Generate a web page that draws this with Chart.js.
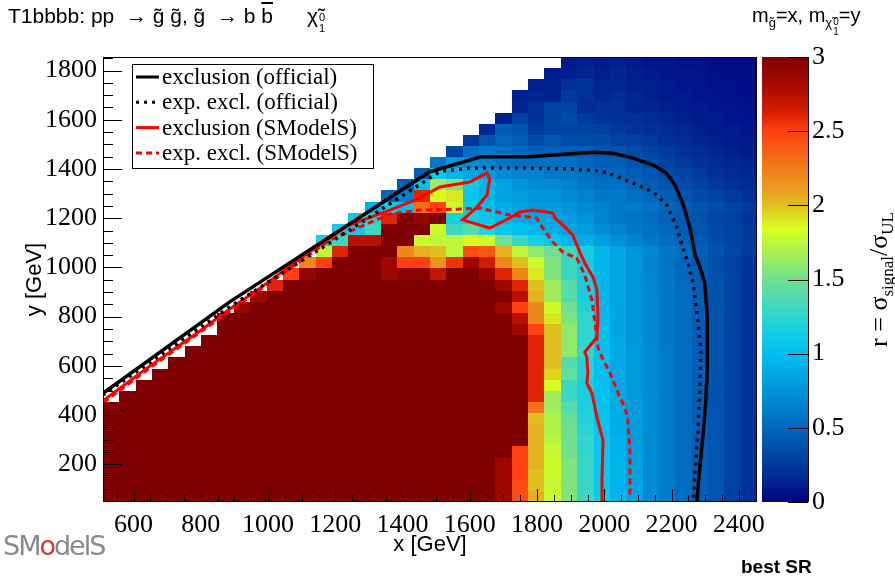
<!DOCTYPE html>
<html>
<head>
<meta charset="utf-8">
<script src="https://cdn.jsdelivr.net/npm/chart.js@4.4.1/dist/chart.umd.min.js"></script>
<style>
body { margin: 0; background: #fff; }
#wrap { position: relative; width: 895px; height: 578px; }
.hdr { position: absolute; font-family: 'Liberation Sans', Arial, sans-serif; color: #000; white-space: nowrap; }
.stk { display: inline-block; font-size: 11px; line-height: 11px; vertical-align: -9px; margin-left: 1px; }
.stk2 { display: inline-block; font-size: 10px; line-height: 10px; vertical-align: -8px; margin-left: 1px; }
.ov { text-decoration: overline; }
#logo { left: 3px; top: 530px; font-family: 'DejaVu Sans', sans-serif; font-size: 27px; color: #8a8a8a; letter-spacing: -2px; }
#logo span { color: #d33; }
</style>
</head>
<body>
<div id="wrap">
<canvas id="limitChart" width="895" height="578"></canvas>
<div class="hdr" style="left:8px; top:4px; font-size:21px;">T1bbbb: pp&nbsp; → g&#x303; g&#x303;, g&#x303; &nbsp;→ b <span class="ov">b</span><span style="margin-left:34px">χ&#x303;</span><span class="stk">0<br>1</span></div>
<div class="hdr" style="left:752px; top:4px; font-size:20px;">m<sub style="font-size:13px">g&#x303;</sub>=x, m<sub style="font-size:13px">χ&#x303;<span class="stk2">0<br>1</span></sub>=y</div>
<div class="hdr" style="left:741px; top:556px; font-size:19px; font-weight:bold;">best SR</div>
<div class="hdr" id="logo">SM<span>o</span>delS</div>
</div>
<script>
// axis ranges of the histogram and tick labels
const xMin = 509, xMax = 2454, yMin = 47, yMax = 1855;
const xTickValues = [600, 800, 1000, 1200, 1400, 1600, 1800, 2000, 2200, 2400];
const yTickValues = [200, 400, 600, 800, 1000, 1200, 1400, 1600, 1800];
const zTickValues = [0, 0.5, 1, 1.5, 2, 2.5, 3];

// r = sigma_signal / sigma_UL per bin, rows listed from the top (y high) down to the bottom
const _ = null;
const rGrid = [
  [_,_,_,_,_, _,_,_,_,_, _,_,_,_,_, _,_,_,_,_, _,_,_,_,_, _,_,_, 0.1,0.12,0.1,0.12,0.1,0.08,0.08,0.06,0.06,0.05,0.05,0.05],
  [_,_,_,_,_, _,_,_,_,_, _,_,_,_,_, _,_,_,_,_, _,_,_,_,_, _,_, 0.1,0.12,0.15,0.12,0.15,0.12,0.1,0.08,0.08,0.07,0.06,0.05,0.05],
  [_,_,_,_,_, _,_,_,_,_, _,_,_,_,_, _,_,_,_,_, _,_,_,_,_, _, 0.12,0.12,0.2,0.22,0.15,0.15,0.12,0.12,0.1,0.08,0.08,0.06,0.06,0.05],
  [_,_,_,_,_, _,_,_,_,_, _,_,_,_,_, _,_,_,_,_, _,_,_,_,_, 0.12,0.15,0.12,0.25,0.2,0.15,0.18,0.15,0.12,0.1,0.1,0.08,0.07,0.06,0.05],
  [_,_,_,_,_, _,_,_,_,_, _,_,_,_,_, _,_,_,_,_, _,_,_,_,_, 0.15,0.2,0.3,0.3,0.18,0.2,0.2,0.15,0.15,0.12,0.1,0.1,0.08,0.07,0.06],
  [_,_,_,_,_, _,_,_,_,_, _,_,_,_,_, _,_,_,_,_, _,_,_,_, 0.12,0.3,0.2,0.28,0.35,0.25,0.22,0.2,0.2,0.18,0.15,0.12,0.1,0.1,0.08,0.07],
  [_,_,_,_,_, _,_,_,_,_, _,_,_,_,_, _,_,_,_,_, _,_,_, 0.15,0.45,0.4,0.25,0.3,0.3,0.3,0.28,0.25,0.22,0.2,0.18,0.15,0.12,0.1,0.1,0.08],
  [_,_,_,_,_, _,_,_,_,_, _,_,_,_,_, _,_,_,_,_, _,_, 0.25,0.4,0.5,0.45,0.35,0.4,0.35,0.35,0.35,0.3,0.28,0.25,0.2,0.18,0.15,0.12,0.1,0.1],
  [_,_,_,_,_, _,_,_,_,_, _,_,_,_,_, _,_,_,_,_, _, 0.3,0.55,0.6,0.55,0.5,0.45,0.45,0.45,0.45,0.4,0.38,0.35,0.3,0.25,0.2,0.18,0.15,0.12,0.1],
  [_,_,_,_,_, _,_,_,_,_, _,_,_,_,_, _,_,_,_,_, 0.6,0.75,0.7,0.65,0.6,0.55,0.55,0.55,0.55,0.5,0.45,0.45,0.4,0.35,0.3,0.25,0.2,0.18,0.15,0.12],
  [_,_,_,_,_, _,_,_,_,_, _,_,_,_,_, _,_,_,_, 0.45,1.1,0.95,0.85,0.8,0.7,0.65,0.65,0.6,0.6,0.55,0.5,0.5,0.45,0.4,0.35,0.3,0.25,0.2,0.18,0.15],
  [_,_,_,_,_, _,_,_,_,_, _,_,_,_,_, _,_,_, 0.45,1.0,1.65,1.55,1.1,0.95,0.85,0.75,0.7,0.7,0.65,0.6,0.55,0.55,0.5,0.45,0.4,0.35,0.3,0.25,0.2,0.18],
  [_,_,_,_,_, _,_,_,_,_, _,_,_,_,_, _,_, 0.5,0.65,2.6,1.85,1.9,1.05,0.95,0.85,0.8,0.75,0.75,0.7,0.65,0.6,0.6,0.55,0.5,0.45,0.4,0.35,0.3,0.25,0.2],
  [_,_,_,_,_, _,_,_,_,_, _,_,_,_,_, _, 0.9,1.1,1.0,2.3,2.5,1.8,1.1,1.0,0.9,0.85,0.8,0.8,0.75,0.7,0.65,0.6,0.6,0.55,0.5,0.45,0.4,0.35,0.3,0.25],
  [_,_,_,_,_, _,_,_,_,_, _,_,_,_,_, 1.1,1.2,2.6,3,2.9,3,1.15,1.15,1.05,0.95,0.9,0.85,0.85,0.8,0.75, 0.66,0.6,0.57,0.52,0.47,0.42,0.37,0.32,0.27,0.23],
  [_,_,_,_,_, _,_,_,_,_, _,_,_,_, 1.1,1.1,1.3,3,3,3,1.8,1.3,1.4,1.2,1.05,1.0,0.95,0.9,0.85,0.8, 0.72,0.66,0.6,0.55,0.5,0.45,0.4,0.34,0.29,0.24],
  [_,_,_,_,_, _,_,_,_,_, _,_,_, 1.15,1.3,2.75,2.75,3,3,1.8,1.75,1.75,1.85,1.8,1.5,1.3,1.15,1.05,0.95,0.9, 0.82,0.74,0.66,0.6,0.54,0.48,0.42,0.36,0.3,0.25],
  [_,_,_,_,_, _,_,_,_,_, _,_,_, 1.75,2.6,3,3,3,2.2,2.05,2.0,1.75,2.45,2.4,2.05,1.75,1.6,1.5,1.3,1.15, 0.95,0.85,0.76,0.68,0.6,0.53,0.46,0.39,0.32,0.26],
  [_,_,_,_,_, _,_,_,_,_, _,_, 2.2,2.5,3,3,3,2.85,2.5,2.5,2.15,2.55,2.85,2.65,2.2,2.0,1.8,1.55,1.3,1.12, 0.95,0.85,0.75,0.66,0.58,0.5,0.43,0.36,0.29,0.22],
  [_,_,_,_,_, _,_,_,_,_, _, 2.5,2.9,3,3,3,3,2.85,2.95,2.95,2.7,3,3,2.9,2.6,2.2,1.9,1.55,1.3,1.15, 0.95,0.85,0.75,0.67,0.59,0.51,0.44,0.37,0.3,0.22],
  [_,_,_,_,_, _,_,_,_,_, 2.6, 3,3,3,3,3, 3,3,3,3,3, 3,3,3, 2.85,2.6,2.0,1.65,1.4,1.15, 0.95,0.85,0.75,0.67,0.59,0.52,0.45,0.38,0.3,0.22],
  [_,_,_,_,_, _,_,_,_, 2.85, 3,3,3,3,3, 3,3,3,3,3, 3,3,3,3,3, 2.75,2.05,1.65,1.4,1.15, 0.95,0.85,0.75,0.67,0.6,0.52,0.45,0.38,0.3,0.22],
  [_,_,_,_,_, _,_,_, 2.9, 3,3,3,3,3, 3,3,3,3,3, 3,3,3,3,3, 2.85,2.5,2.2,1.8,1.5,1.2, 0.95,0.85,0.75,0.68,0.6,0.52,0.45,0.38,0.3,0.22],
  [_,_,_,_,_, _,_, 3,3,3,3,3, 3,3,3,3,3, 3,3,3,3,3, 3,3,3, 2.75,2.2,1.9,1.55,1.25, 0.98,0.86,0.76,0.68,0.6,0.52,0.45,0.38,0.3,0.22],
  [_,_,_,_,_, _,_, 3,3,3,3,3, 3,3,3,3,3, 3,3,3,3,3, 3,3,3, 2.85,2.5,2.0,1.6,1.25, 1.0,0.86,0.76,0.68,0.6,0.52,0.45,0.38,0.3,0.22],
  [_,_,_,_,_, _, 3,3,3,3,3, 3,3,3,3,3, 3,3,3,3,3, 3,3,3,3,3, 2.6,2.0,1.6,1.25, 1.0,0.87,0.77,0.68,0.6,0.52,0.45,0.38,0.3,0.22],
  [_,_,_,_,_, 3,3,3,3,3, 3,3,3,3,3, 3,3,3,3,3, 3,3,3,3,3, 3, 2.6,2.0,1.6,1.28, 1.02,0.88,0.78,0.69,0.61,0.53,0.45,0.39,0.3,0.22],
  [_,_,_,_, 3,3,3,3,3, 3,3,3,3,3, 3,3,3,3,3, 3,3,3,3,3, 3,3, 2.6,2.0,1.4,1.2, 1.0,0.88,0.78,0.69,0.61,0.53,0.46,0.39,0.3,0.22],
  [_,_,_, 3,3,3,3,3, 3,3,3,3,3, 3,3,3,3,3, 3,3,3,3,3, 3,3,3, 2.6,1.95,1.45,1.2, 1.0,0.88,0.78,0.69,0.61,0.53,0.46,0.39,0.3,0.22],
  [_,_, 3,3,3,3,3, 3,3,3,3,3, 3,3,3,3,3, 3,3,3,3,3, 3,3,3,3, 2.6,1.85,1.3,1.15, 1.0,0.88,0.78,0.69,0.61,0.53,0.46,0.39,0.3,0.22],
  [_, 3,3,3,3,3, 3,3,3,3,3, 3,3,3,3,3, 3,3,3,3,3, 3,3,3,3,3, 2.6,1.65,1.3,1.15, 1.0,0.88,0.79,0.7,0.61,0.53,0.46,0.39,0.3,0.22],
  [3,3,3,3,3, 3,3,3,3,3, 3,3,3,3,3, 3,3,3,3,3, 3,3,3,3,3, 3, 2.3,1.65,1.4,1.18, 1.02,0.9,0.8,0.7,0.62,0.53,0.46,0.39,0.3,0.22],
  [3,3,3,3,3, 3,3,3,3,3, 3,3,3,3,3, 3,3,3,3,3, 3,3,3,3,3, 3, 2.0,1.7,1.45,1.2, 1.02,0.9,0.8,0.7,0.62,0.53,0.46,0.4,0.3,0.22],
  [3,3,3,3,3, 3,3,3,3,3, 3,3,3,3,3, 3,3,3,3,3, 3,3,3,3,3, 3, 2.05,1.7,1.5,1.22, 1.03,0.9,0.8,0.7,0.62,0.53,0.46,0.4,0.3,0.22],
  [3,3,3,3,3, 3,3,3,3,3, 3,3,3,3,3, 3,3,3,3,3, 3,3,3,3,3, 3, 2.05,1.75,1.5,1.25, 1.05,0.92,0.82,0.7,0.62,0.53,0.45,0.4,0.3,0.22],
  [3,3,3,3,3, 3,3,3,3,3, 3,3,3,3,3, 3,3,3,3,3, 3,3,3,3,3, 2.5,2.05,1.78,1.5,1.25, 1.05,0.92,0.82,0.7,0.62,0.53,0.45,0.4,0.3,0.22],
  [3,3,3,3,3, 3,3,3,3,3, 3,3,3,3,3, 3,3,3,3,3, 3,3,3,3, 2.85,2.5,2.05,1.8,1.55,1.28, 1.07,0.93,0.83,0.7,0.62,0.53,0.45,0.4,0.3,0.22],
  [3,3,3,3,3, 3,3,3,3,3, 3,3,3,3,3, 3,3,3,3,3, 3,3,3,3, 2.85,2.5,2.0,1.8,1.55,1.28, 1.07,0.93,0.83,0.7,0.62,0.53,0.45,0.4,0.3,0.22],
  [3,3,3,3,3, 3,3,3,3,3, 3,3,3,3,3, 3,3,3,3,3, 3,3,3,3, 2.85,2.45,2.0,1.78,1.55,1.3, 1.08,0.94,0.84,0.7,0.62,0.53,0.45,0.4,0.3,0.21],
  [3,3,3,3,3, 3,3,3,3,3, 3,3,3,3,3, 3,3,3,3,3, 3,3,3,3, 2.85,2.45,2.05,1.8,1.55,1.3, 1.1,0.95,0.85,0.7,0.62,0.53,0.45,0.4,0.28,0.2]
];

// exclusion contours [GeV]
const offObsX = [509, 886, 1481, 1635, 1778, 1848, 1967, 2026, 2086, 2145, 2185, 2210, 2235, 2255, 2270, 2284, 2299, 2306, 2306, 2302, 2294, 2284, 2275];
const offObsY = [489, 860, 1389, 1450, 1450, 1457, 1468, 1464, 1444, 1416, 1383, 1335, 1254, 1159, 1050, 1003, 935, 799, 596, 460, 325, 189, 47];
const offExpX = [508, 886, 1183, 1392, 1511, 1600, 1749, 1898, 1987, 2026, 2085, 2145, 2186, 2216, 2231, 2246, 2264, 2278, 2287, 2284, 2278, 2264];
const offExpY = [481, 840, 1100, 1285, 1390, 1404, 1404, 1400, 1392, 1376, 1343, 1307, 1254, 1160, 1091, 1030, 936, 786, 664, 501, 326, 54];
const smsObsX = [511, 543, 648, 796, 886, 984, 1085, 1183, 1234, 1362, 1451, 1511, 1600, 1651, 1659, 1651, 1621, 1579, 1659, 1719, 1749, 1787, 1847, 1853, 1877, 1906, 1927, 1942, 1966, 1978, 1981, 1978, 1942, 1948, 1951, 1948, 1963, 1978, 1996, 1993, 1993];
const smsObsY = [460, 493, 599, 741, 831, 924, 1026, 1119, 1168, 1233, 1282, 1327, 1347, 1384, 1359, 1294, 1245, 1193, 1160, 1201, 1225, 1233, 1221, 1201, 1172, 1132, 1062, 1018, 961, 908, 798, 717, 656, 635, 570, 530, 489, 391, 298, 135, 47];
const smsExpX = [511, 648, 886, 1183, 1362, 1451, 1570, 1630, 1680, 1719, 1799, 1817, 1847, 1877, 1918, 1942, 1963, 1975, 1981, 1993, 2017, 2046, 2061, 2070, 2076, 2076];
const smsExpY = [452, 591, 822, 1111, 1217, 1233, 1237, 1241, 1225, 1213, 1201, 1160, 1103, 1062, 1038, 969, 867, 745, 676, 635, 570, 473, 432, 379, 257, 74];

// colour palette of the z axis (value -> colour)
const paletteStops = [0, 0.12, 0.28, 0.46, 0.64, 0.82, 1.0, 1.16, 1.32, 1.5, 1.68, 1.84, 2.0, 2.1, 2.27, 2.5, 2.62, 2.8, 3.0];
const paletteColors = ['#000080', '#002090', '#0040a0', '#0060b8', '#0080d0', '#00a0e0', '#00c0f0', '#18d0e0', '#40d8c0', '#70e090',
  '#a8f050', '#d8ff20', '#e0c020', '#e8a020', '#f07818', '#ff4010', '#d82000', '#a80a00', '#7f0000'];

function hexToRgb(h) {
  return [parseInt(h.slice(1, 3), 16), parseInt(h.slice(3, 5), 16), parseInt(h.slice(5, 7), 16)];
}

function colorFor(v) {
  v = Math.max(0, Math.min(3, v));
  for (let i = 1; i < paletteStops.length; i++) {
    if (v <= paletteStops[i]) {
      const t = (v - paletteStops[i - 1]) / (paletteStops[i] - paletteStops[i - 1]);
      const a = hexToRgb(paletteColors[i - 1]), b = hexToRgb(paletteColors[i]);
      const c = a.map((ai, k) => Math.round(ai + (b[k] - ai) * t));
      return 'rgb(' + c.join(',') + ')';
    }
  }
  return paletteColors[paletteColors.length - 1];
}

function contour(label, xs, ys, color, dash, width) {
  return {
    label: label,
    data: xs.map((v, i) => ({x: v, y: ys[i]})),
    showLine: true,
    borderColor: color,
    backgroundColor: color,
    borderWidth: width,
    borderDash: dash,
    pointRadius: 0,
    fill: false,
    tension: 0
  };
}

function fixedTicks(values) {
  return s => { s.ticks = values.map(v => ({value: v})); };
}

const rootLike = {
  id: 'rootLike',
  beforeDatasetsDraw(chart) {
    const {ctx, chartArea: a, scales: {x, y}} = chart;
    const ny = rGrid.length, nx = rGrid[0].length;
    const dx = (xMax - xMin) / nx, dy = (yMax - yMin) / ny;
    ctx.save();
    ctx.beginPath();
    ctx.rect(a.left, a.top, a.width, a.height);
    ctx.clip();
    rGrid.forEach((row, k) => {
      const j = ny - 1 - k;
      row.forEach((v, i) => {
        if (v === null) return;
        const x0 = Math.round(x.getPixelForValue(xMin + i * dx));
        const x1 = Math.round(x.getPixelForValue(xMin + (i + 1) * dx));
        const y0 = Math.round(y.getPixelForValue(yMin + (j + 1) * dy));
        const y1 = Math.round(y.getPixelForValue(yMin + j * dy));
        ctx.fillStyle = colorFor(v);
        ctx.fillRect(x0, y0, x1 - x0, y1 - y0);
      });
    });
    ctx.restore();
  },
  afterDatasetsDraw(chart) {
    const {ctx, chartArea: a, scales: {x, y, z}} = chart;
    ctx.save();
    // frame and inward ticks
    ctx.strokeStyle = '#000';
    ctx.lineWidth = 1;
    ctx.strokeRect(a.left + 0.5, a.top + 0.5, a.width - 1, a.height - 1);
    ctx.beginPath();
    for (let v = 550; v < xMax; v += 50) {
      const px = Math.round(x.getPixelForValue(v)) + 0.5;
      const len = v % 200 === 0 ? 13 : 7;
      ctx.moveTo(px, a.bottom);
      ctx.lineTo(px, a.bottom - len);
    }
    for (let v = 50; v < yMax; v += 50) {
      const py = Math.round(y.getPixelForValue(v)) + 0.5;
      const len = v % 200 === 0 ? 19 : 10;
      ctx.moveTo(a.left, py);
      ctx.lineTo(a.left + len, py);
    }
    ctx.stroke();

    // colour bar
    const bx0 = a.right + 5, bx1 = a.right + 51;
    const top = z.getPixelForValue(3), bot = z.getPixelForValue(0);
    const grad = ctx.createLinearGradient(0, bot, 0, top);
    paletteStops.forEach((s, i) => grad.addColorStop(s / 3, paletteColors[i]));
    ctx.fillStyle = grad;
    ctx.fillRect(bx0, top, bx1 - bx0, bot - top);
    ctx.beginPath();
    ctx.moveTo(bx1 + 0.5, top);
    ctx.lineTo(bx1 + 0.5, bot);
    z.ticks.forEach(t => {
      const py = Math.round(z.getPixelForValue(t.value)) + 0.5;
      ctx.moveTo(bx1, py);
      ctx.lineTo(bx1 - 20, py);
    });
    ctx.stroke();

    // z axis title, reading upwards
    ctx.translate(887, (a.top + a.bottom) / 2);
    ctx.rotate(-Math.PI / 2);
    const parts = [['r = σ', 26, 0], ['signal', 17, 6], ['/σ', 26, 0], ['UL', 17, 6]];
    let w = 0;
    parts.forEach(p => { ctx.font = p[1] + 'px "Liberation Serif"'; w += ctx.measureText(p[0]).width; });
    let tx = -w / 2;
    ctx.fillStyle = '#000';
    ctx.textBaseline = 'alphabetic';
    parts.forEach(p => {
      ctx.font = p[1] + 'px "Liberation Serif"';
      ctx.fillText(p[0], tx, p[2]);
      tx += ctx.measureText(p[0]).width;
    });
    ctx.restore();

    // legend box inside the frame
    const lx = a.left + 29, ly = a.top + 7, lw = 241, lh = 104;
    ctx.save();
    ctx.fillStyle = '#fff';
    ctx.fillRect(lx, ly, lw, lh);
    ctx.strokeStyle = '#000';
    ctx.lineWidth = 1;
    ctx.strokeRect(lx + 0.5, ly + 0.5, lw, lh);
    ctx.font = '23px "Liberation Serif"';
    ctx.textBaseline = 'middle';
    chart.data.datasets.forEach((ds, k) => {
      const cy = ly + 13 + k * 25.3;
      ctx.strokeStyle = ds.borderColor;
      ctx.lineWidth = 3;
      ctx.setLineDash(ds.borderDash);
      ctx.beginPath();
      ctx.moveTo(lx + 4, cy);
      ctx.lineTo(lx + 27, cy);
      ctx.stroke();
      ctx.setLineDash([]);
      ctx.fillStyle = '#000';
      ctx.fillText(ds.label, lx + 30, cy + 1);
    });
    ctx.restore();
  }
};

const tickFont = {family: 'Liberation Serif', size: 26};

new Chart(document.getElementById('limitChart').getContext('2d'), {
  type: 'scatter',
  data: {
    datasets: [
      contour('exclusion (official)', offObsX, offObsY, '#000000', [], 3.5),
      contour('exp. excl. (official)', offExpX, offExpY, '#000000', [3, 5], 3.5),
      contour('exclusion (SModelS)', smsObsX, smsObsY, '#ff0000', [], 3),
      contour('exp. excl. (SModelS)', smsExpX, smsExpY, '#ff0000', [6, 4], 3)
    ]
  },
  options: {
    responsive: false,
    animation: false,
    devicePixelRatio: 1,
    layout: {padding: {top: 57, left: 0, right: 0, bottom: 0}},
    plugins: {legend: {display: false}, tooltip: {enabled: false}},
    scales: {
      x: {
        type: 'linear', min: xMin, max: xMax,
        grid: {display: false, drawTicks: false}, border: {display: false},
        afterBuildTicks: fixedTicks(xTickValues),
        ticks: {autoSkip: false, maxRotation: 0, padding: 8, font: tickFont, color: '#000', callback: v => v},
        title: {display: true, text: 'x [GeV]', color: '#000',
          font: {family: 'Liberation Sans', size: 22}, padding: {top: 0, bottom: 20}},
        afterFit: s => { s.height = 76; s.paddingLeft = 0; s.paddingRight = 0; }
      },
      y: {
        type: 'linear', min: yMin, max: yMax,
        grid: {display: false, drawTicks: false}, border: {display: false},
        afterBuildTicks: fixedTicks(yTickValues),
        ticks: {autoSkip: false, padding: 6, font: tickFont, color: '#000', callback: v => v},
        title: {display: true, text: 'y [GeV]', color: '#000',
          font: {family: 'Liberation Sans', size: 22}, padding: {top: 22, bottom: 0}},
        afterFit: s => { s.width = 103; s.paddingTop = 0; s.paddingBottom = 0; }
      },
      z: {
        type: 'linear', position: 'right', display: true, min: 0, max: 3,
        grid: {display: false, drawTicks: false}, border: {display: false},
        afterBuildTicks: fixedTicks(zTickValues),
        ticks: {autoSkip: false, padding: 55, font: tickFont, color: '#000', callback: v => v},
        afterFit: s => { s.width = 138; s.paddingTop = 0; s.paddingBottom = 0; }
      }
    }
  },
  plugins: [rootLike]
});
</script>
</body>
</html>
